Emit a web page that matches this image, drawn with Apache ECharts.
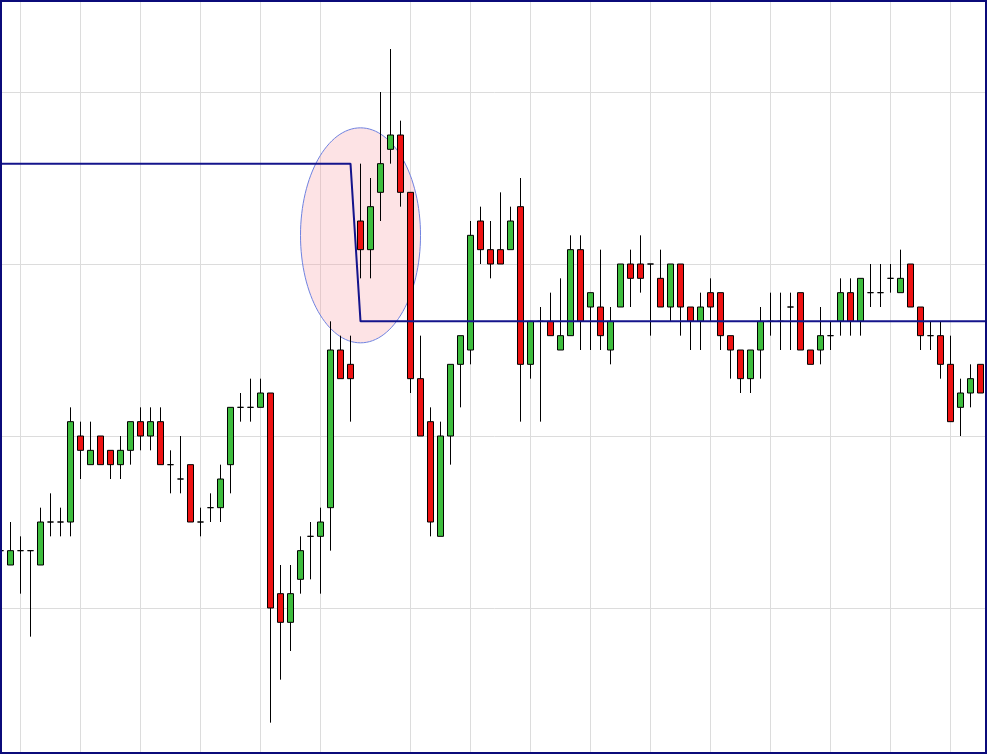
<!DOCTYPE html>
<html>
<head>
<meta charset="utf-8">
<script src="https://cdn.jsdelivr.net/npm/echarts@6/dist/echarts.min.js"></script>
<style>
html, body { margin: 0; padding: 0; background: #ffffff; }
#wrap { position: relative; width: 987px; height: 754px; overflow: hidden; }
#chart { position: absolute; left: 0; top: 0; width: 987px; height: 754px; }
#frame { position: absolute; left: 0; top: 0; width: 987px; height: 754px; box-sizing: border-box; border: 2px solid #0b0b7a; pointer-events: none; }
</style>
</head>
<body>
<div id="wrap"><div id="chart"></div><div id="frame"></div></div>
<script>
// price values (in ticks)
const open  = [16,15,16,16,15,18,18,18,24,22,24,23,22,23,25,24,25,22,21,22,18,19,19,22,26,26,26,27,13,11,14,17,17,19,30,29,39,37,41,44,45,41,28,25,17,24,29,30,39,37,37,37,40,29,32,32,30,31,37,33,33,30,33,36,36,36,35,33,36,33,32,34,34,31,30,28,30,32,32,33,34,30,30,31,32,34,32,34,34,35,34,36,33,31,31,29,26,27,29];
const close = [16,16,16,16,18,18,18,25,23,23,22,22,23,25,24,25,22,22,21,18,18,19,21,26,26,26,27,12,11,13,16,17,18,30,28,28,37,40,43,45,41,28,24,18,24,29,31,38,37,36,36,39,29,32,32,31,31,37,32,34,31,32,36,35,35,36,33,36,33,32,33,33,31,30,28,30,32,32,32,33,30,29,31,31,34,32,35,34,34,35,35,33,31,31,29,25,27,28,27];
const low   = [15,15,13,10,15,17,17,17,21,22,22,21,21,22,23,23,22,20,20,18,17,18,18,20,25,25,26,4,7,9,13,14,13,16,28,25,35,35,39,43,40,27,24,17,17,22,26,29,36,35,36,37,25,28,25,31,30,31,30,30,30,29,33,33,34,31,33,32,31,30,30,32,30,28,27,27,28,31,30,30,30,29,29,30,31,31,31,33,33,34,34,33,30,30,28,25,24,26,27];
const high  = [17,18,17,16,19,20,19,26,25,25,24,23,24,25,26,26,26,23,24,22,19,20,22,26,27,28,28,27,15,15,17,18,19,32,31,31,43,42,48,51,46,41,31,26,25,29,31,39,40,39,41,40,42,32,33,34,35,38,38,34,37,33,36,37,38,36,37,36,36,33,34,35,34,31,30,30,33,34,34,34,34,30,33,32,35,35,35,36,36,36,37,36,33,32,32,31,28,29,29];

// session separators (category indices with a vertical grid line)
const sessionBreaks = [2,8,14,20,26,32,41,47,53,59,65,71,77,83,89,95];

// blue level line (index 99 is the next, off-screen bar)
const levelX = [0,35,36,99];
const levelY = [43,43,32,32];

// highlighted zone: centre (index, price), half-width (bars), half-height (ticks)
const zone = [36, 38, 6, 7.5];

// one extra slot for the bar just past the right edge
const categories = Array.from({ length: open.length + 1 }, (_, i) => String(i));
const candles = open.map((o, i) => [o, close[i], low[i], high[i]]);
const levelData = levelX.map((x, i) => [x, levelY[i]]);

const chart = echarts.init(document.getElementById('chart'), null, { renderer: 'canvas' });
chart.setOption({
  animation: false,
  backgroundColor: '#ffffff',
  grid: { left: 0.5, width: 990, top: -80, height: 860, containLabel: false, outerBoundsMode: 'none' },
  xAxis: {
    type: 'category',
    data: categories,
    boundaryGap: false,
    axisLine: { show: false },
    axisTick: { show: false },
    axisLabel: { show: false },
    splitLine: {
      show: true,
      interval: (idx) => sessionBreaks.includes(idx),
      lineStyle: { color: '#dcdcdc', width: 1 }
    }
  },
  yAxis: {
    type: 'value',
    min: 0, max: 60, interval: 12,
    axisLine: { show: false },
    axisTick: { show: false },
    axisLabel: { show: false },
    splitLine: { show: true, lineStyle: { color: '#dcdcdc', width: 1 } }
  },
  series: [
    {
      type: 'custom',
      z: 1,
      clip: false,
      silent: true,
      data: [zone],
      renderItem: function (params, api) {
        const x = api.value(0), y = api.value(1), dx = api.value(2), dy = api.value(3);
        const c = api.coord([x, y]);
        const l = api.coord([x - dx, y]);
        const r = api.coord([x + dx, y]);
        const t = api.coord([x, y + dy]);
        const b = api.coord([x, y - dy]);
        return {
          type: 'ellipse',
          shape: { cx: c[0], cy: c[1], rx: Math.abs(r[0] - l[0]) / 2, ry: Math.abs(b[1] - t[1]) / 2 },
          style: { fill: 'rgba(248,162,168,0.3)', stroke: '#6f82e0', lineWidth: 1 }
        };
      }
    },
    {
      type: 'candlestick',
      z: 2,
      clip: false,
      barWidth: 7,
      data: candles,
      itemStyle: {
        color: '#3dbd3d',
        color0: '#ee1111',
        borderColor: '#000000',
        borderColor0: '#000000',
        borderColorDoji: '#000000',
        borderWidth: 1
      }
    },
    {
      type: 'line',
      z: 3,
      data: levelData,
      symbol: 'none',
      lineStyle: { color: '#14148c', width: 2 }
    }
  ]
});
</script>
</body>
</html>
